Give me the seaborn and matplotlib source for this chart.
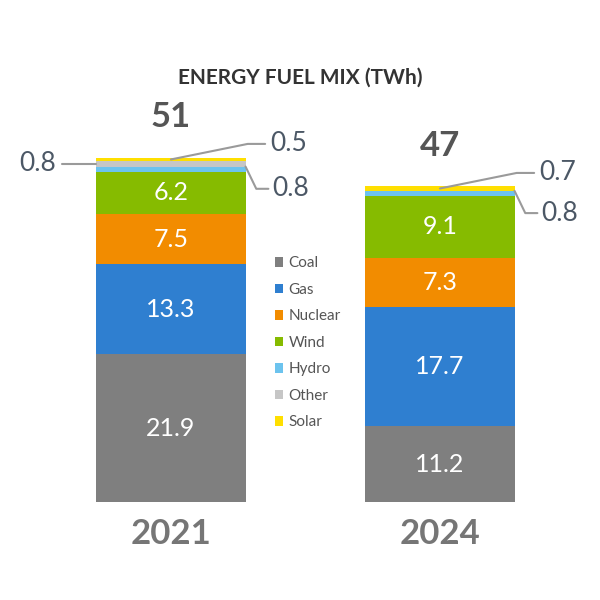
import pandas as pd
import seaborn as sns
import matplotlib.pyplot as plt
from matplotlib.patches import Patch

years = ["2021", "2024"]
fuels = ["Coal", "Gas", "Nuclear", "Wind", "Hydro", "Other", "Solar"]
coal = [21.9, 11.2]
gas = [13.3, 17.7]
nuclear = [7.5, 7.3]
wind = [6.2, 9.1]
hydro = [0.8, 0.8]
other = [0.8, 0.0]
solar = [0.5, 0.7]
totals = ["51", "47"]
colors = ["#7f7f7f", "#2f7fd0", "#f28c00", "#86bb00", "#6cc3ee", "#c6c6c6", "#ffdf00"]


def main():
    sns.set_theme(style="white")
    plt.rcParams["font.family"] = ["Lato", "DejaVu Sans"]

    values = {"Coal": coal, "Gas": gas, "Nuclear": nuclear, "Wind": wind,
              "Hydro": hydro, "Other": other, "Solar": solar}
    df = pd.DataFrame(values)
    df["year"] = years

    fig = plt.figure(figsize=(6, 6), dpi=100)
    ax = fig.add_axes([0, 0, 1, 1])
    # pixel layout: bar centres at 171 / 440 px, base at 502 px, 6.75 px per TWh
    xlim = (-171 / 269, 429 / 269)
    ylim = (-98 / 6.75, 502 / 6.75)

    w = 0.554
    bottom = [0.0, 0.0]
    for fuel, col in zip(fuels, colors):
        sns.barplot(x=[0, 1], y=df[fuel], bottom=bottom, color=col, width=w,
                    native_scale=True, ax=ax, linewidth=0, saturation=1)
        for i in range(2):
            v = df[fuel][i]
            if v >= 2:
                ax.text(i, bottom[i] + v / 2, f"{v:.1f}", color="white",
                        fontsize=18, ha="center", va="center")
        bottom = [bottom[i] + df[fuel][i] for i in range(2)]
    ax.set_xlim(*xlim)
    ax.set_ylim(*ylim)
    ax.axis("off")

    lc = "#9a9a9a"
    tc = "#4c5866"
    half = w / 2
    for i in range(2):
        top = bottom[i]
        ax.text(i, top + 3.6, totals[i], fontsize=25, fontweight="bold",
                color="#555555", ha="center", va="bottom")
        ax.text(i, -2.3, years[i], fontsize=25, fontweight="bold",
                color="#767676", ha="center", va="top")
        # solar callout
        sy = top - solar[i] / 2
        ax.plot([i, i + 0.285, i + 0.35], [sy, sy + 2.3, sy + 2.3], color=lc, lw=1.5)
        ax.text(i + 0.37, sy + 2.3, f"{solar[i]:.1f}", fontsize=19, color=tc,
                ha="left", va="center")
        # hydro callout
        hy = wind[i] + nuclear[i] + gas[i] + coal[i] + hydro[i]
        ax.plot([i + half, i + half + 0.04, i + half + 0.085],
                [hy, hy - 3.3, hy - 3.3], color=lc, lw=1.5)
        ax.text(i + half + 0.1, hy - 3.3, f"{hydro[i]:.1f}", fontsize=19, color=tc,
                ha="left", va="center")
        # other callout
        if other[i] > 0:
            oy = hy + other[i] / 2
            ax.plot([i - half, i - half - 0.13], [oy, oy], color=lc, lw=1.5)
            ax.text(i - half - 0.15, oy, f"{other[i]:.1f}", fontsize=19, color=tc,
                    ha="right", va="center")

    fig.text(0.5, 0.87, "ENERGY FUEL MIX (TWh)", fontsize=15, fontweight="bold",
             color="#333333", ha="center", va="center")

    handles = [Patch(facecolor=c, edgecolor="none") for c in colors]
    leg = ax.legend(handles, fuels, loc="upper left", bbox_to_anchor=(0.448, 0.583),
                    frameon=False, fontsize=11, labelspacing=0.82,
                    handlelength=0.55, handleheight=0.55, handletextpad=0.35,
                    borderaxespad=0)
    for t in leg.get_texts():
        t.set_color("#555555")

    fig.savefig("out.png", dpi=100)


main()
